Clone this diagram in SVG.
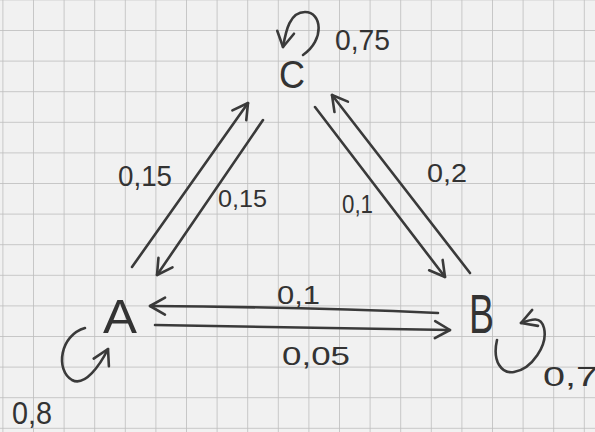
<svg xmlns="http://www.w3.org/2000/svg" width="595" height="432" viewBox="0 0 595 432">
<defs>
<pattern id="grid" patternUnits="userSpaceOnUse" x="2.4" y="-0.6" width="30.6" height="30.6">
<rect x="0" y="0" width="30.6" height="30.6" fill="#f1f1f1"/>
<rect x="-0.6" y="0" width="1.4" height="30.6" fill="#bdbdbd"/>
<rect x="0" y="-0.6" width="30.6" height="1.4" fill="#bdbdbd"/>
</pattern>
<marker id="arr" markerUnits="userSpaceOnUse" markerWidth="30" markerHeight="30" refX="0" refY="0" viewBox="-20 -15 30 30" orient="auto" overflow="visible">
<path d="M-15,-8.5 L0,0 L-15,8.5" fill="none" stroke="#3a3a3a" stroke-width="2.6" stroke-linecap="round" stroke-linejoin="round"/>
</marker>
<style>
.pen{fill:none;stroke:#3a3a3a;stroke-width:2.6;stroke-linecap:round;stroke-linejoin:round;marker-end:url(#arr)}
.lbl{font-family:"Liberation Sans","DejaVu Sans",sans-serif;fill:#333}
.node{font-family:"Liberation Sans","DejaVu Sans",sans-serif;fill:#333}
</style>
</defs>
<rect x="0" y="0" width="595" height="432" fill="url(#grid)"/>
<g id="connectors">
<path class="pen" d="M132,267 L248,103"/>
<path class="pen" d="M263,120 L157,275"/>
<path class="pen" d="M315,107 L445,277"/>
<path class="pen" d="M470,273 L332,95"/>
<path class="pen" d="M438,313 Q300,307 150,306"/>
<path class="pen" d="M155,325 Q300,327 450,330"/>
<path class="pen" d="M303,55 C325,40 322,12 305,12 C290,12 286,30 283,47"/>
<path class="pen" d="M85,328 C60,335 55,370 72,380 C85,387 100,365 108,349"/>
<path class="pen" d="M497,340 C492,362 502,374 514,372 C532,369 548,345 544,328 C541,316 532,319 521,323"/>
<text class="lbl" x="118" y="186" font-size="29" textLength="54" lengthAdjust="spacingAndGlyphs">0,15</text>
<text class="lbl" x="218" y="207" font-size="24" textLength="49" lengthAdjust="spacingAndGlyphs">0,15</text>
<text class="lbl" x="342" y="213" font-size="25" textLength="31" lengthAdjust="spacingAndGlyphs">0,1</text>
<text class="lbl" x="427" y="182" font-size="25" textLength="40" lengthAdjust="spacingAndGlyphs">0,2</text>
<text class="lbl" x="277" y="304" font-size="25" textLength="43" lengthAdjust="spacingAndGlyphs">0,1</text>
<text class="lbl" x="282" y="365" font-size="25" textLength="68" lengthAdjust="spacingAndGlyphs">0,05</text>
<text class="lbl" x="335" y="50" font-size="29" textLength="55" lengthAdjust="spacingAndGlyphs">0,75</text>
<text class="lbl" x="12" y="424" font-size="32" textLength="40" lengthAdjust="spacingAndGlyphs">0,8</text>
<text class="lbl" x="543" y="386" font-size="28" textLength="55" lengthAdjust="spacingAndGlyphs">0,7</text>
</g>
<g id="C"><text class="node" x="279" y="88" font-size="39" textLength="26" lengthAdjust="spacingAndGlyphs">C</text></g>
<g id="A"><text class="node" x="103" y="333" font-size="48" textLength="34" lengthAdjust="spacingAndGlyphs">A</text></g>
<g id="B"><text class="node" x="469" y="333" font-size="56" textLength="25" lengthAdjust="spacingAndGlyphs">B</text></g>
</svg>
